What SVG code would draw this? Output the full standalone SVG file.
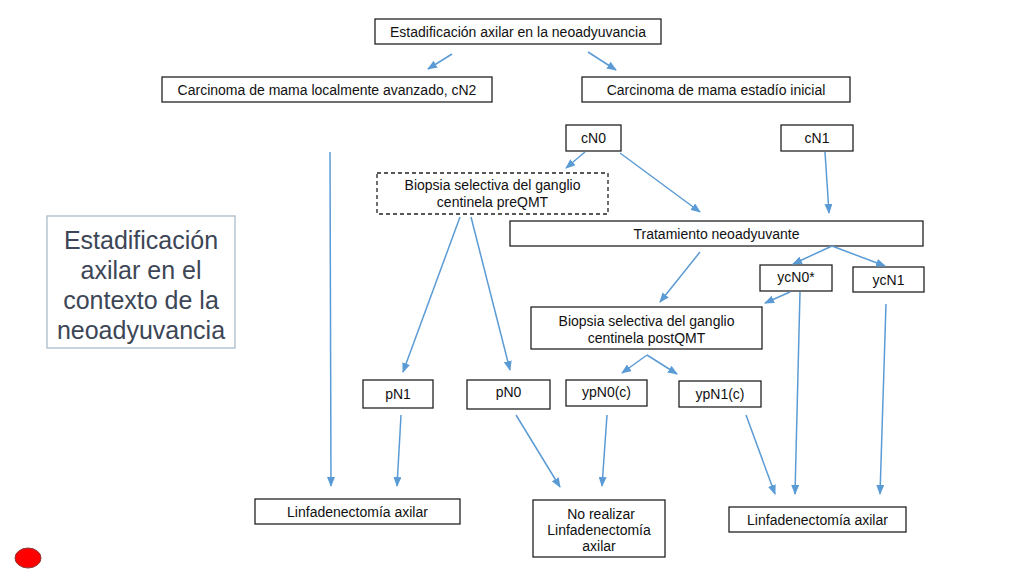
<svg xmlns="http://www.w3.org/2000/svg" width="1024" height="576" viewBox="0 0 1024 576">
<defs>
<marker id="ah" markerWidth="10" markerHeight="8" refX="9" refY="4" orient="auto" markerUnits="userSpaceOnUse">
<path d="M0,0 L10,4 L0,8 Z" fill="#5b9bd5"/>
</marker>
<style>
.b{fill:#fff;stroke:#222;stroke-width:1.3}
.d{fill:#fff;stroke:#222;stroke-width:1.3;stroke-dasharray:4,3}
.t{font-family:"Liberation Sans",Arial,sans-serif;font-size:14px;fill:#111;text-anchor:middle}
.c{stroke:#5b9bd5;stroke-width:1.5;fill:none;marker-end:url(#ah)}
.big{font-family:"Liberation Sans",Arial,sans-serif;font-size:25px;fill:#3d4656;text-anchor:middle}
</style>
</defs>
<rect width="1024" height="576" fill="#fff"/>

<g id="title">
<rect x="47" y="216" width="188" height="132" fill="#fff" stroke="#a9bccb" stroke-width="1.3"/>
<text class="big" x="141" y="249">Estadificación</text>
<text class="big" x="141" y="279">axilar en el</text>
<text class="big" x="141" y="309">contexto de la</text>
<text class="big" x="141" y="339">neoadyuvancia</text>
</g>

<g id="n-top"><rect class="b" x="375" y="19" width="286" height="25"/><text class="t" x="518" y="37">Estadificación axilar en la neoadyuvancia</text></g>
<g id="n-cn2"><rect class="b" x="162" y="77" width="330" height="25"/><text class="t" x="327" y="95">Carcinoma de mama localmente avanzado, cN2</text></g>
<g id="n-inicial"><rect class="b" x="582" y="77" width="268" height="25"/><text class="t" x="716" y="95">Carcinoma de mama estadío inicial</text></g>
<g id="n-cn0"><rect class="b" x="566" y="125" width="55" height="26"/><text class="t" x="593.5" y="143">cN0</text></g>
<g id="n-cn1"><rect class="b" x="781" y="125" width="72" height="26"/><text class="t" x="817" y="143">cN1</text></g>
<g id="n-bsgc-pre"><rect class="d" x="377" y="173" width="231" height="41"/><text class="t" x="492.5" y="190">Biopsia selectiva del ganglio</text><text class="t" x="492.5" y="207">centinela preQMT</text></g>
<g id="n-trat"><rect class="b" x="510" y="221" width="413" height="25"/><text class="t" x="716.5" y="239">Tratamiento neoadyuvante</text></g>
<g id="n-ycn0"><rect class="b" x="760" y="265" width="72" height="26"/><text class="t" x="796" y="282">ycN0*</text></g>
<g id="n-ycn1"><rect class="b" x="853" y="267" width="71" height="25"/><text class="t" x="888.5" y="285">ycN1</text></g>
<g id="n-bsgc-post"><rect class="b" x="531" y="307" width="231" height="42"/><text class="t" x="646.5" y="326">Biopsia selectiva del ganglio</text><text class="t" x="646.5" y="343">centinela postQMT</text></g>
<g id="n-pn1"><rect class="b" x="363" y="380" width="70" height="28"/><text class="t" x="398" y="399">pN1</text></g>
<g id="n-pn0"><rect class="b" x="467" y="380" width="83" height="29"/><text class="t" x="508.5" y="397">pN0</text></g>
<g id="n-ypn0"><rect class="b" x="566" y="380" width="81" height="26"/><text class="t" x="606.5" y="397">ypN0(c)</text></g>
<g id="n-ypn1"><rect class="b" x="679" y="381" width="82" height="26"/><text class="t" x="720" y="399">ypN1(c)</text></g>
<g id="n-linf-l"><rect class="b" x="255" y="499" width="205" height="25"/><text class="t" x="357.5" y="517">Linfadenectomía axilar</text></g>
<g id="n-no"><rect class="b" x="533" y="500" width="132" height="57"/><text class="t" x="601" y="519">No realizar</text><text class="t" x="599" y="535">Linfadenectomía</text><text class="t" x="599" y="551">axilar</text></g>
<g id="n-linf-r"><rect class="b" x="729" y="507" width="177" height="25"/><text class="t" x="817.5" y="525">Linfadenectomía axilar</text></g>

<g id="connectors">
<line class="c" x1="452" y1="54" x2="428" y2="69"/>
<line class="c" x1="588" y1="52" x2="616" y2="70"/>
<line class="c" x1="330" y1="152" x2="331" y2="486"/>
<line class="c" x1="585" y1="152" x2="566" y2="168"/>
<line class="c" x1="620" y1="153" x2="700" y2="212"/>
<line class="c" x1="825" y1="152" x2="829" y2="213"/>
<line class="c" x1="460" y1="217" x2="403" y2="372"/>
<line class="c" x1="471" y1="217" x2="510" y2="370"/>
<line class="c" x1="700" y1="252" x2="660" y2="302"/>
<line class="c" x1="832" y1="246" x2="793" y2="264"/>
<line class="c" x1="832" y1="246" x2="885" y2="266"/>
<line class="c" x1="790" y1="292" x2="765" y2="303"/>
<line class="c" x1="800" y1="292" x2="795" y2="494"/>
<line class="c" x1="886" y1="304" x2="880" y2="494"/>
<line class="c" x1="647" y1="355" x2="622" y2="373"/>
<line class="c" x1="647" y1="355" x2="677" y2="374"/>
<line class="c" x1="401" y1="415" x2="397" y2="486"/>
<line class="c" x1="516" y1="415" x2="560" y2="487"/>
<line class="c" x1="607" y1="415" x2="602" y2="486"/>
<line class="c" x1="746" y1="415" x2="775" y2="494"/>
</g>

<ellipse cx="28" cy="558" rx="13" ry="10" fill="#f00" stroke="#8b3a3a" stroke-width="1"/>
</svg>
